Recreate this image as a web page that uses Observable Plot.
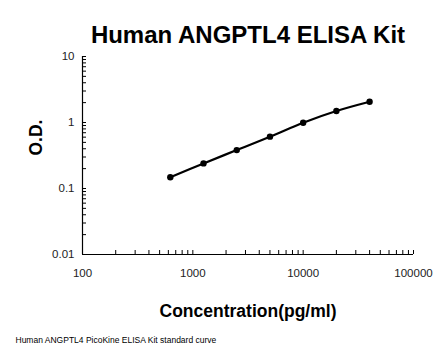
<!DOCTYPE html>
<html><head><meta charset="utf-8">
<script src="https://cdn.jsdelivr.net/npm/d3@7"></script>
<script src="https://cdn.jsdelivr.net/npm/@observablehq/plot@0.6"></script>
<style>
body{margin:0;background:#fff;}
#chart{position:relative;width:446px;height:356px;}
</style>
</head><body><div id="chart"></div>
<script>
const concentration = [625, 1250, 2500, 5000, 10000, 20000, 40000];
const od = [0.148, 0.24, 0.382, 0.61, 0.99, 1.49, 2.06];
const xTickLabels = [100, 1000, 10000, 100000];
const yTickLabels = [0.01, 0.1, 1, 10];
const titleText = "Human ANGPTL4 ELISA Kit";
const xLabel = "Concentration(pg/ml)";
const yLabel = "O.D.";
const caption = "Human ANGPTL4 PicoKine ELISA Kit standard curve";

const data = concentration.map((c, i) => ({c, od: od[i]}));
const minor = (lo, hi) => { const out = []; for (let d = lo; d < hi; d *= 10) for (let k = 1; k < 10; k++) out.push(d * k); out.push(hi); return out; };
const xMinor = minor(100, 100000);
const yMinor = minor(0.01, 10);

const W = 446, H = 356, mL = 82, mR = 33, mT = 56, mB = 102;
const fw = W - mL - mR, fh = H - mT - mB;
const font = "Liberation Sans, Arial, sans-serif";

const plot = Plot.plot({
  width: W, height: H,
  marginLeft: mL, marginRight: mR, marginTop: mT, marginBottom: mB,
  style: {fontFamily: font, background: "#fff", color: "#000", overflow: "visible"},
  x: {type: "log", domain: [100, 100000]},
  y: {type: "log", domain: [0.01, 10]},
  marks: [
    Plot.axisX(xTickLabels, {label: null, tickSize: 0, tickPadding: 14, fontSize: 11.5, fill: "#222", tickFormat: d => String(d)}),
    Plot.axisY(yTickLabels, {label: null, tickSize: 0, tickPadding: 8, fontSize: 11.5, fill: "#222", tickFormat: d => String(d)}),
    Plot.tickX(xMinor, {x: d => d, insetTop: fh - 4, stroke: "#000", strokeWidth: 1}),
    Plot.tickY(yMinor, {y: d => d, insetRight: fw - 4, stroke: "#000", strokeWidth: 1}),
    Plot.ruleX([100], {stroke: "#000", strokeWidth: 1.2}),
    Plot.ruleY([0.01], {stroke: "#000", strokeWidth: 1.2}),
    Plot.line(data, {x: "c", y: "od", curve: "catmull-rom", stroke: "#000", strokeWidth: 2.2}),
    Plot.dot(data, {x: "c", y: "od", r: 3.2, fill: "#000", stroke: "none"}),
    Plot.text([titleText], {frameAnchor: "top", dy: -14, fontSize: 24, fontWeight: "bold", fill: "#000", text: d => d, lineAnchor: "bottom"}),
    Plot.text([xLabel], {frameAnchor: "bottom", dy: 62, fontSize: 17.5, fontWeight: "bold", fill: "#000", text: d => d, lineAnchor: "bottom"}),
    Plot.text([yLabel], {frameAnchor: "left", dx: -46, rotate: -90, fontSize: 17.5, fontWeight: "bold", fill: "#000", text: d => d}),
    Plot.text([caption], {frameAnchor: "bottom-left", dx: -67, dy: 88, fontSize: 8.5, fill: "#000", textAnchor: "start", text: d => d})
  ]
});
document.getElementById("chart").appendChild(plot);
</script></body></html>
